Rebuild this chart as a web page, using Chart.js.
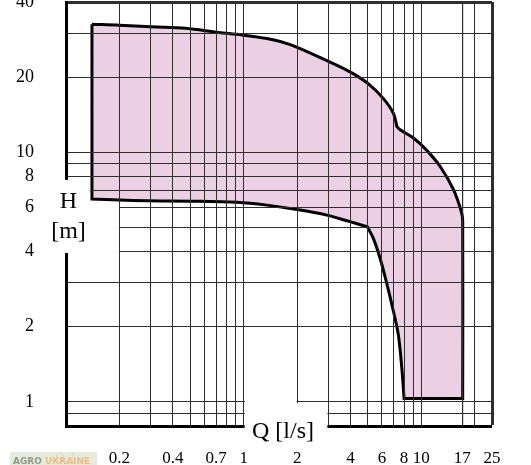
<!DOCTYPE html>
<html><head><meta charset="utf-8">
<script src="https://cdn.jsdelivr.net/npm/chart.js@4.4.1/dist/chart.umd.min.js"></script>
<style>html,body{margin:0;padding:0;background:#fff;overflow:hidden}</style>
</head><body>
<canvas id="c" width="531" height="465"></canvas>
<script>
// Operating field boundary (clockwise from top-left), Q in l/s, H in m.
// Corner points are listed twice so the smoothed outline keeps sharp corners.
const boundaryQ = [0.14, 0.14, 0.2, 0.3, 0.47, 0.72, 0.98, 1.44, 1.83, 2.94, 3.97, 5.04, 6.12, 6.97, 7.28, 7.28, 7.6, 9.03, 10.7, 12.8, 15.2, 16.9, 17.1, 17.1, 17.1, 8.0, 8.0, 7.77, 7.43, 6.97, 6.39, 5.86, 5.37, 4.97, 4.97, 3.97, 2.94, 1.99, 1.35, 0.915, 0.5, 0.285, 0.2, 0.14, 0.14, 0.14];
const boundaryH = [32.6, 32.6, 32.3, 31.8, 31.4, 30.2, 29.5, 28.3, 27.0, 23.3, 21.0, 18.8, 16.4, 14.3, 12.7, 12.7, 12.3, 11.4, 10.2, 8.75, 7.06, 5.69, 5.27, 1.03, 1.03, 1.03, 1.03, 1.36, 1.85, 2.30, 2.98, 3.76, 4.52, 5.03, 5.03, 5.27, 5.60, 5.90, 6.14, 6.30, 6.37, 6.39, 6.43, 6.50, 6.50, 32.6];

const xGridValues = [0.1, 0.2, 0.3, 0.4, 0.5, 0.6, 0.7, 0.8, 0.9, 1, 2, 3, 4, 5, 6, 7, 8, 9, 10, 17, 20, 25];
const xTickLabels = ['0.1', '0.2', '0.4', '0.7', '1', '2', '4', '6', '8', '10', '17', '25'];
const yGridValues = [0.8, 0.9, 1, 2, 3, 4, 5, 6, 7, 8, 9, 10, 20, 30, 40];
const yTickLabels = ['1', '2', '4', '6', '8', '10', '20', '40'];

const xTitle = 'Q [l/s]';
const yTitle1 = 'H';
const yTitle2 = '[m]';
const watermark1 = 'AGRO';
const watermark2 = 'UKRAINE';

const GRID = '#2e2e2e';
const FILL = '#ebd0e4';
const SERIF = '"Liberation Serif", "Times New Roman", serif';

const annot = {
  id: 'annot',
  afterDraw(chart) {
    const {ctx, chartArea: a, scales: {x, y}} = chart;
    ctx.save();
    ctx.fillStyle = '#fff';
    // gap in left frame for H [m]
    const r1Top = y.getPixelForValue(7.75), r1Bot = y.getPixelForValue(3.95);
    ctx.fillRect(a.left - 28, r1Top, x.getPixelForValue(0.14) - 2 - (a.left - 28), r1Bot - r1Top);
    const r2Top = y.getPixelForValue(6.4) + 2;
    ctx.fillRect(a.left - 3, r2Top, x.getPixelForValue(0.2) - 0.6 - (a.left - 3), r1Bot - r2Top);
    // gap in bottom frame for Q [l/s]
    const x1 = x.getPixelForValue(1), x2 = x.getPixelForValue(2), x3 = x.getPixelForValue(3);
    const yh1 = y.getPixelForValue(1);
    ctx.fillRect(x1 + 1, yh1 - 1.5, x2 - x1 - 1.5, a.bottom + 4 - (yh1 - 1.5));
    ctx.fillRect(x2 - 1.5, yh1 + 1.5, x3 - 1 - (x2 - 1.5), a.bottom + 4 - (yh1 + 1.5));
    // titles
    ctx.fillStyle = '#000';
    ctx.font = '24px ' + SERIF;
    ctx.textAlign = 'center';
    ctx.textBaseline = 'alphabetic';
    ctx.fillText(yTitle1, 68.5, 208);
    ctx.fillText(yTitle2, 68.5, 238);
    ctx.textAlign = 'left';
    ctx.fillText(xTitle, 252, 438);
    // watermark
    ctx.fillStyle = 'rgba(226,232,214,0.85)';
    ctx.fillRect(10, 452, 87, 14);
    ctx.font = 'bold 9px "DejaVu Sans", sans-serif';
    ctx.fillStyle = '#8d9b8b';
    ctx.fillText(watermark1, 13, 464);
    ctx.fillStyle = 'rgba(240,180,110,0.85)';
    ctx.fillText(watermark2, 45, 464);
    ctx.restore();
  }
};

new Chart(document.getElementById('c'), {
  type: 'scatter',
  data: {
    datasets: [{
      data: boundaryQ.map((q, i) => ({x: q, y: boundaryH[i]})),
      showLine: true,
      fill: 'shape',
      backgroundColor: FILL,
      borderColor: '#000',
      borderWidth: 3,
      borderJoinStyle: 'miter',
      pointRadius: 0,
      pointHoverRadius: 0,
      tension: 0.35
    }]
  },
  options: {
    responsive: false,
    animation: false,
    devicePixelRatio: 1,
    layout: {padding: {top: 2, right: 39, bottom: 0, left: 0}},
    plugins: {legend: {display: false}, tooltip: {enabled: false}},
    events: [],
    scales: {
      x: {
        type: 'logarithmic', min: 0.1, max: 25,
        afterBuildTicks: s => { s.ticks = xGridValues.map(v => ({value: v})); },
        afterFit: s => { s.height = 39; s.paddingLeft = 0; s.paddingRight = 0; },
        ticks: {
          autoSkip: false, maxRotation: 0, minRotation: 0, padding: 22,
          color: ctx => (ctx.tick && ctx.tick.value === 0.1) ? '#999' : '#000',
          font: {family: SERIF, size: 17},
          callback: v => xTickLabels.includes(String(v)) ? String(v) : ''
        },
        grid: {
          z: 1, drawTicks: false, color: GRID,
          lineWidth: ctx => {
            const v = ctx.tick ? ctx.tick.value : null;
            if (v === 25) return 3;
            if (v === 0.1) return 0;
            if (v === 17) return 1.2;
            return 1;
          }
        },
        border: {z: 1, display: true, color: '#000', width: 3}
      },
      y: {
        type: 'logarithmic', min: 0.8, max: 40,
        afterBuildTicks: s => { s.ticks = yGridValues.map(v => ({value: v})); },
        afterFit: s => { s.width = 66; s.paddingTop = 0; s.paddingBottom = 0; },
        ticks: {
          autoSkip: false, padding: 32, color: '#000',
          font: {family: SERIF, size: 18},
          callback: v => yTickLabels.includes(String(v)) ? String(v) : ''
        },
        grid: {
          z: 1, drawTicks: false, color: GRID,
          lineWidth: ctx => {
            const v = ctx.tick ? ctx.tick.value : null;
            if (v === 40) return 3;
            if (v === 0.8) return 0;
            return 1;
          }
        },
        border: {z: 1, display: true, color: '#000', width: 3}
      }
    }
  },
  plugins: [annot]
});
</script>
</body></html>
